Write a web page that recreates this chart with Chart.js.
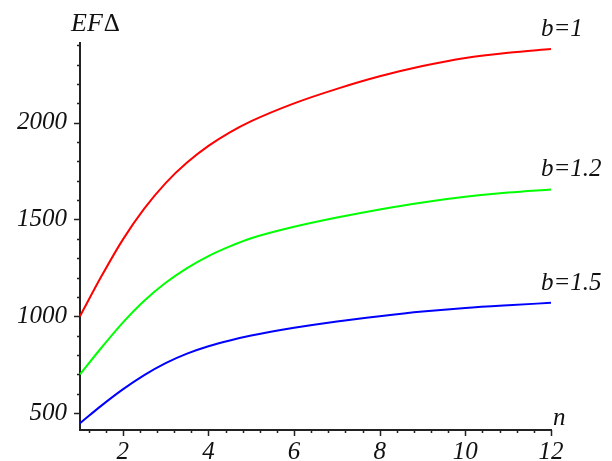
<!DOCTYPE html>
<html>
<head>
<meta charset="utf-8">
<script src="https://cdn.jsdelivr.net/npm/chart.js@4/dist/chart.umd.min.js"></script>
<style>
  html, body { margin: 0; padding: 0; background: #fff; }
  #wrap { width: 612px; height: 461px; }
</style>
</head>
<body>
<div id="wrap"><canvas id="efChart" width="612" height="461"></canvas></div>
<script>
/* ===== DATA ===== */
const nValues  = [1, 1.5, 2, 2.5, 3, 3.5, 4, 4.5, 5, 6, 7, 8, 9, 10, 11, 12];
const effB1    = [1000, 1206, 1396, 1556, 1688, 1794, 1880, 1950, 2008, 2100, 2175, 2240, 2293, 2335, 2362, 2381];
const effB12   = [700, 837, 967, 1080, 1173, 1249, 1311, 1361, 1403, 1462, 1510, 1552, 1588, 1617, 1639, 1655];
const effB15   = [447, 538, 622, 696, 758, 807, 845, 875, 900, 940, 973, 1000, 1024, 1043, 1057, 1069];
const seriesLabels = ["b=1", "b=1.2", "b=1.5"];
const seriesColors = ["#ff0000", "#00ff00", "#0000ff"];
const xTickValues = [2, 4, 6, 8, 10, 12];
const yTickValues = [500, 1000, 1500, 2000];
const yAxisTitle = "EF";
const yAxisSymbol = "\u0394";
const xAxisTitle = "n";

const serifItalic = "italic 25px 'Liberation Serif', 'DejaVu Serif', serif";

function toPoints(values) {
  return nValues.map((n, i) => ({ x: n, y: values[i] }));
}

/* ===== minor/major tick marks, labels ===== */
const maplePlugin = {
  id: "maplePlugin",
  afterDraw(chart) {
    const { ctx, scales: { x, y } } = chart;
    const x0 = x.getPixelForValue(x.min);
    const y0 = y.getPixelForValue(y.min);
    ctx.save();
    ctx.strokeStyle = "#222";
    ctx.lineWidth = 1.5;
    ctx.beginPath();
    // y ticks every 100, major every 500
    for (let v = 500; v <= y.max; v += 100) {
      const py = Math.round(y.getPixelForValue(v)) + 0.5;
      const len = v % 500 === 0 ? 6 : 3;
      ctx.moveTo(x0, py);
      ctx.lineTo(x0 - len, py);
    }
    // x ticks every 0.4, major every 2
    for (let k = 3; k <= 30; k++) {
      const v = k * 0.4;
      const px = Math.round(x.getPixelForValue(v)) + 0.5;
      const len = k % 5 === 0 ? 6 : 3;
      ctx.moveTo(px, y0);
      ctx.lineTo(px, y0 + len);
    }
    ctx.stroke();

    // curve labels
    ctx.fillStyle = "#111";
    ctx.font = serifItalic;
    ctx.textAlign = "left";
    ctx.textBaseline = "alphabetic";
    chart.data.datasets.forEach((ds, i) => {
      const pts = chart.getDatasetMeta(i).data;
      const last = pts[pts.length - 1];
      ctx.fillText(seriesLabels[i], last.x - 10, last.y - 13);
    });

    // axis titles
    ctx.font = "italic 26px 'Liberation Serif', 'DejaVu Serif', serif";
    ctx.fillText(yAxisTitle, 71, 31);
    const w = ctx.measureText(yAxisTitle).width;
    ctx.font = "25px 'Liberation Serif', 'DejaVu Serif', serif";
    ctx.fillText(yAxisSymbol, 71 + w + 1, 31);
    ctx.font = serifItalic;
    ctx.fillText(xAxisTitle, 553, 425);
    ctx.restore();
  }
};

const tickFont = { family: "'Liberation Serif', serif", style: "italic", size: 25 };

new Chart(document.getElementById("efChart"), {
  type: "line",
  data: {
    datasets: [effB1, effB12, effB15].map((vals, i) => ({
      label: seriesLabels[i],
      data: toPoints(vals),
      borderColor: seriesColors[i],
      borderWidth: 2,
      pointRadius: 0,
      fill: false,
      cubicInterpolationMode: "monotone",
      clip: false
    }))
  },
  options: {
    responsive: false,
    animation: false,
    layout: { padding: { top: 43, right: 61, left: 0, bottom: 0 } },
    plugins: { legend: { display: false }, tooltip: { enabled: false } },
    scales: {
      x: {
        type: "linear",
        min: 1,
        max: 12,
        afterBuildTicks: s => { s.ticks = xTickValues.map(v => ({ value: v })); },
        afterFit: s => { s.height = 31; },
        grid: { display: false, drawTicks: false },
        border: { display: true, color: "#222", width: 2 },
        ticks: {
          padding: 7,
          color: "#111",
          maxRotation: 0,
          autoSkip: false,
          font: tickFont,
          callback: v => String(v)
        }
      },
      y: {
        type: "linear",
        min: 412,
        max: 2412,
        afterBuildTicks: s => { s.ticks = yTickValues.map(v => ({ value: v })); },
        afterFit: s => { s.width = 80; },
        grid: { display: false, drawTicks: false },
        border: { display: true, color: "#222", width: 2 },
        ticks: {
          padding: 13,
          color: "#111",
          font: tickFont,
          callback: v => String(v)
        }
      }
    }
  },
  plugins: [maplePlugin]
});
</script>
</body>
</html>
